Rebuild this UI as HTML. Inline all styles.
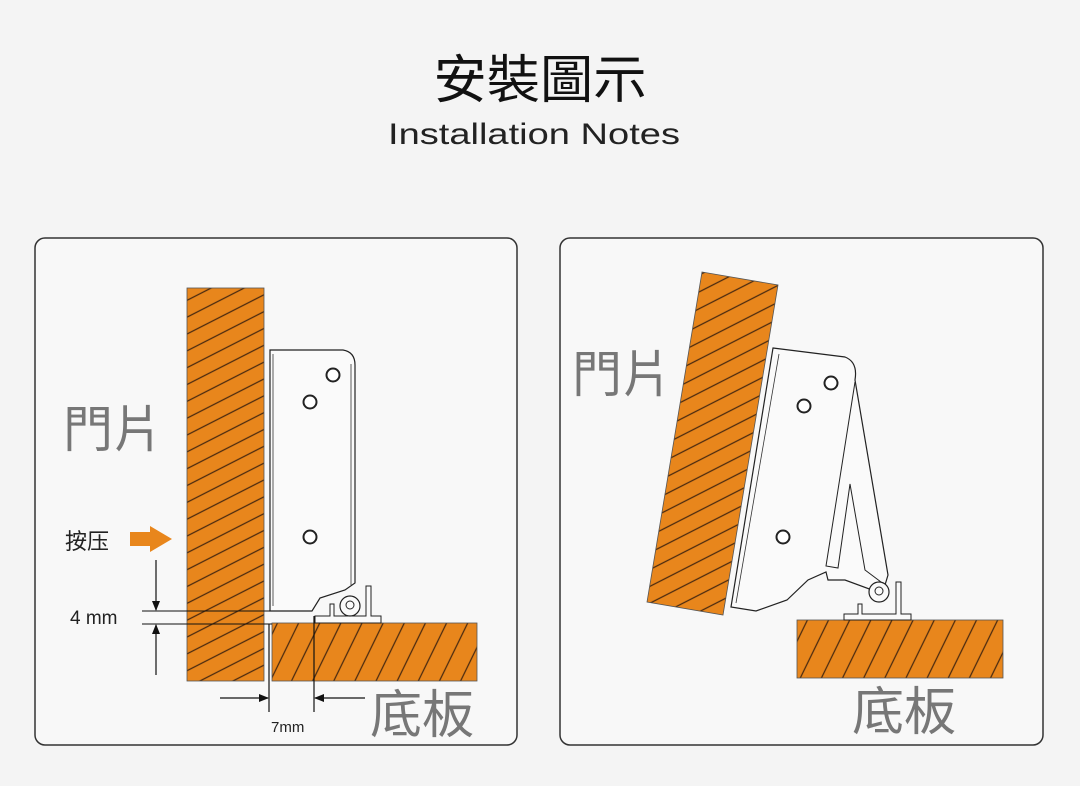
<!DOCTYPE html>
<html><head><meta charset="utf-8"><style>
html,body{margin:0;padding:0;background:#f4f4f4;}
svg{display:block}
text{font-family:"Liberation Sans","Noto Sans CJK TC",sans-serif;}
</style></head><body>
<svg width="1080" height="786" viewBox="0 0 1080 786" xmlns="http://www.w3.org/2000/svg">
<defs>
<pattern id="hd" patternUnits="userSpaceOnUse" width="20" height="15" patternTransform="rotate(-27)">
<rect width="20" height="15" fill="#e8861c"/><line x1="0" y1="7.5" x2="20" y2="7.5" stroke="#4a2a10" stroke-width="1.2"/>
</pattern>
<pattern id="hb" patternUnits="userSpaceOnUse" width="17" height="19" patternTransform="rotate(-64)">
<rect width="17" height="19" fill="#e8861c"/><line x1="0" y1="9.5" x2="17" y2="9.5" stroke="#4a2a10" stroke-width="1.2"/>
</pattern>
<marker id="ar" markerWidth="10" markerHeight="10" refX="9" refY="5" orient="auto" markerUnits="userSpaceOnUse"><path d="M0,1 L10,5 L0,9z" fill="#111"/></marker>
</defs>
<rect width="1080" height="786" fill="#f4f4f4"/>
<text x="540" y="98" text-anchor="middle" font-size="52" fill="#111" textLength="213" lengthAdjust="spacingAndGlyphs">安裝圖示</text>
<text x="534" y="144" text-anchor="middle" font-size="30" fill="#222" textLength="292" lengthAdjust="spacingAndGlyphs">Installation Notes</text>

<rect x="35" y="238" width="482" height="507" rx="10" fill="#f8f8f8" stroke="#333" stroke-width="1.5"/>
<rect x="560" y="238" width="483" height="507" rx="10" fill="#f8f8f8" stroke="#333" stroke-width="1.5"/>

<!-- LEFT -->
<rect x="187" y="288" width="77" height="393" fill="url(#hd)" stroke="#555" stroke-width="0.8"/>
<rect x="272" y="623" width="205" height="58" fill="url(#hb)" stroke="#555" stroke-width="0.8"/>
<path d="M270,350 L343,350 Q355,352 355,365 L355,583 L345,590 L320,598 L312,611 L270,611 Z" fill="#fafafa" stroke="#222" stroke-width="1.2"/>
<line x1="273" y1="354" x2="273" y2="606" stroke="#333" stroke-width="0.8"/>
<line x1="351" y1="364" x2="351" y2="585" stroke="#333" stroke-width="0.8"/>
<circle cx="333" cy="375" r="6.5" fill="#fff" stroke="#222" stroke-width="2"/>
<circle cx="310" cy="402" r="6.5" fill="#fff" stroke="#222" stroke-width="2"/>
<circle cx="310" cy="537" r="6.5" fill="#fff" stroke="#222" stroke-width="2"/>
<path d="M315,623 L315,616 L330,616 L330,604 L334,604 L334,616 L366,616 L366,586 L371,586 L371,616 L381,616 L381,623 Z" fill="#fafafa" stroke="#222" stroke-width="1"/>
<circle cx="350" cy="606" r="10" fill="#fafafa" stroke="#222" stroke-width="1.2"/>
<circle cx="350" cy="605" r="4" fill="none" stroke="#222" stroke-width="1"/>
<!-- 4mm -->
<line x1="142" y1="611" x2="270" y2="611" stroke="#111" stroke-width="1"/>
<line x1="142" y1="624" x2="272" y2="624" stroke="#111" stroke-width="1"/>
<line x1="156" y1="560" x2="156" y2="610" stroke="#111" stroke-width="1.2" marker-end="url(#ar)"/>
<line x1="156" y1="675" x2="156" y2="625" stroke="#111" stroke-width="1.2" marker-end="url(#ar)"/>
<text x="70" y="624" font-size="19" fill="#222">4 mm</text>
<text x="65" y="549" font-size="22" fill="#222">按压</text>
<path d="M130,532 L150,532 L150,526 L172,539 L150,552 L150,546 L130,546 Z" fill="#e8861c"/>
<!-- 7mm -->
<line x1="269" y1="624" x2="269" y2="712" stroke="#111" stroke-width="1.2"/>
<line x1="314" y1="616" x2="314" y2="712" stroke="#111" stroke-width="1.2"/>
<line x1="220" y1="698" x2="268" y2="698" stroke="#111" stroke-width="1.2" marker-end="url(#ar)"/>
<line x1="365" y1="698" x2="315" y2="698" stroke="#111" stroke-width="1.2" marker-end="url(#ar)"/>
<text x="271" y="732" font-size="15" fill="#222">7mm</text>
<text x="63" y="447" font-size="50" fill="#777">門片</text>
<text x="370" y="733" font-size="52" fill="#777">底板</text>

<!-- RIGHT -->
<polygon points="702,272 778,285 723,615 647,602" fill="url(#hd)" stroke="#555" stroke-width="0.8"/>
<rect x="797" y="620" width="206" height="58" fill="url(#hb)" stroke="#555" stroke-width="0.8"/>
<path d="M773,348 L845,357 Q858,362 855,380 L888,575 L885,585 L872,590 L845,580 L828,580 L826,572 L808,580 L787,600 L756,611 L731,607 Z" fill="#fafafa" stroke="#222" stroke-width="1.2"/>
<path d="M855,382 L826,566 L838,568 L850,484 L865,570 L885,585" fill="none" stroke="#222" stroke-width="1"/>
<line x1="779" y1="354" x2="736" y2="603" stroke="#333" stroke-width="0.8"/>
<circle cx="831" cy="383" r="6.5" fill="#fff" stroke="#222" stroke-width="2"/>
<circle cx="804" cy="406" r="6.5" fill="#fff" stroke="#222" stroke-width="2"/>
<circle cx="783" cy="537" r="6.5" fill="#fff" stroke="#222" stroke-width="2"/>
<path d="M844,620 L844,614 L858,614 L858,604 L862,604 L862,614 L896,614 L896,582 L901,582 L901,614 L911,614 L911,620 Z" fill="#fafafa" stroke="#222" stroke-width="1"/>
<circle cx="879" cy="592" r="10" fill="#fafafa" stroke="#222" stroke-width="1.2"/>
<circle cx="879" cy="591" r="4" fill="none" stroke="#222" stroke-width="1"/>
<text x="572" y="392" font-size="50" fill="#777">門片</text>
<text x="852" y="730" font-size="52" fill="#777">底板</text>
</svg>
</body></html>
